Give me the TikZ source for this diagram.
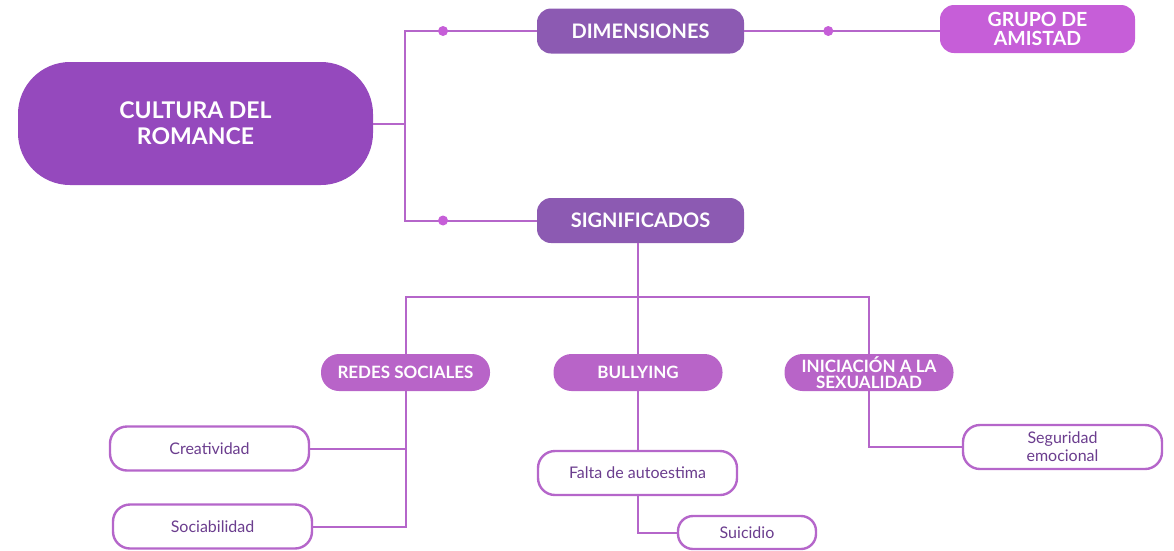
\documentclass[tikz,border=0pt]{standalone}
\usepackage{fontspec}
\setmainfont{Lato}
\definecolor{rootc}{HTML}{9549BD}
\definecolor{dimc}{HTML}{8C5AB2}
\definecolor{grupoc}{HTML}{C65ED8}
\definecolor{midc}{HTML}{B864C8}
\definecolor{linec}{HTML}{B566CA}
\definecolor{leaftext}{HTML}{6B3D8E}
\begin{document}
\begin{tikzpicture}[x=1pt,y=-1pt,
    box/.style = {rectangle,inner sep=0pt,outer sep=0pt,align=center,text=white,font=\bfseries},
    root/.style = {box,fill=rootc,minimum width=355pt,minimum height=123pt,rounded corners=52pt,font=\fontsize{23}{26}\selectfont\bfseries},
    dimbox/.style = {box,fill=dimc,minimum width=207pt,minimum height=45pt,rounded corners=14pt,font=\fontsize{20}{21}\selectfont\bfseries},
    grupobox/.style = {box,fill=grupoc,minimum width=195pt,minimum height=48pt,rounded corners=14pt,font=\fontsize{19.5}{18.5}\selectfont\bfseries},
    midbox/.style = {box,fill=midc,minimum width=169pt,minimum height=37pt,rounded corners=18pt,font=\fontsize{17}{16.5}\selectfont\bfseries},
    leaf/.style = {rectangle,draw=linec,line width=2.4pt,fill=white,inner sep=0pt,align=center,minimum width=199pt,minimum height=44pt,rounded corners=17pt,text=leaftext,font=\fontsize{16}{18}\selectfont},
    conn/.style = {draw=linec,line width=2pt},
    dot/.style = {circle,fill=grupoc,inner sep=0pt,minimum size=10pt}]
\useasboundingbox (0,0) rectangle (1174,550);

% first level
\node[root] (cultura) at (195.5,123.5) {CULTURA DEL\\ROMANCE};
\node[dimbox] (dim) at (640.5,31) {DIMENSIONES};
\node[dimbox] (sig) at (640.5,220.5) {SIGNIFICADOS};
\node[grupobox] (grupo) at (1037.5,29) {GRUPO DE\\AMISTAD};

% second level
\node[midbox] (redes) at (405.5,372.5) {REDES SOCIALES};
\node[midbox] (bully) at (638,372.5) {BULLYING};
\node[midbox] (inic) at (869,372.5) {INICIACIÓN A LA\\SEXUALIDAD};

% leaves
\node[leaf] (crea) at (209.5,448.5) {Creatividad};
\node[leaf] (soci) at (212.5,526.5) {Sociabilidad};
\node[leaf] (falta) at (637.5,473) {Falta de autoestima};
\node[leaf,minimum width=138pt,minimum height=33pt,rounded corners=15pt] (suic) at (747,532.5) {Suicidio};
\node[leaf] (segu) at (1062.5,447) {Seguridad\\emocional};

% connectors
\coordinate (split) at (405,123.5);
\draw[conn] (cultura.east) -- (split);
\draw[conn] (split) |- node[dot,pos=0.644]{} (dim.west);
\draw[conn] (split) |- node[dot,pos=0.644]{} (sig.west);
\draw[conn] (dim.east) -- node[dot,pos=0.43]{} (grupo.west |- dim.east);
\coordinate (bus) at (638,297);
\draw[conn] (bully.north |- sig.south) -- (bully.north);
\draw[conn] (redes.north) |- (bus) -| (inic.north);
\draw[conn] (redes.south) |- (soci.east);
\draw[conn] (crea.east) -- (crea.east -| redes.south);
\draw[conn] (bully.south) -- (bully.south |- falta.north);
\draw[conn] (bully.south |- falta.south) |- (suic.west);
\draw[conn] (inic.south) |- (segu.west);
\end{tikzpicture}
\end{document}
